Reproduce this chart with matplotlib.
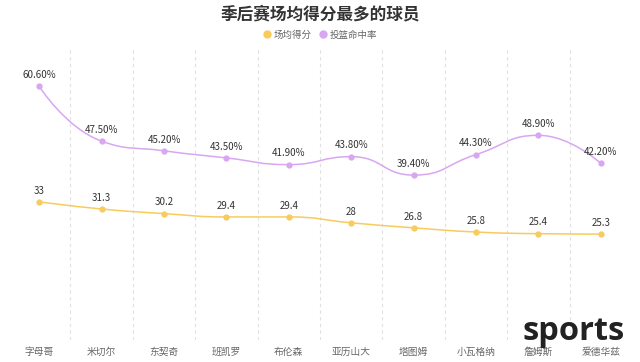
import numpy as np
import matplotlib
matplotlib.use("Agg")
import matplotlib.pyplot as plt
from matplotlib.path import Path
from matplotlib.patches import PathPatch
from matplotlib.lines import Line2D

plt.rcParams['font.family'] = ['Noto Sans CJK SC', 'DejaVu Sans']

players = ["字母哥", "米切尔", "东契奇", "班凯罗", "布伦森",
           "亚历山大", "塔图姆", "小瓦格纳", "詹姆斯", "爱德华兹"]
points_avg = [33, 31.3, 30.2, 29.4, 29.4, 28, 26.8, 25.8, 25.4, 25.3]
fg_pct = [60.6, 47.5, 45.2, 43.5, 41.9, 43.8, 39.4, 44.3, 48.9, 42.2]

yellow = "#F8CB5E"
purple = "#D9A6F2"


def smooth_path(ax, xs, ys, smooth=0.5):
    # echarts-like bezier smoothing with clamped control points (pixel space)
    pts = ax.transData.transform(np.column_stack([xs, ys]))
    n = len(pts)
    verts = [pts[0]]
    codes = [Path.MOVETO]
    cp0 = pts[0].copy()
    for i in range(1, n):
        p = pts[i]
        prev = pts[i - 1]
        if i == n - 1:
            cp1 = p.copy()
            ncp0 = p.copy()
        else:
            nxt = pts[i + 1]
            v = nxt - prev
            l0 = np.hypot(*(p - prev))
            l1 = np.hypot(*(nxt - p))
            r = l1 / (l0 + l1)
            ncp0 = p + v * smooth * r
            ncp0 = np.clip(ncp0, np.minimum(nxt, p), np.maximum(nxt, p))
            v = ncp0 - p
            cp1 = p - v * l0 / l1
            cp1 = np.clip(cp1, np.minimum(prev, p), np.maximum(prev, p))
            v = p - cp1
            ncp0 = p + v * l1 / l0
        verts += [cp0, cp1, p]
        codes += [Path.CURVE4] * 3
        cp0 = ncp0
    verts = ax.transData.inverted().transform(np.array(verts))
    return Path(verts, codes)


fig = plt.figure(figsize=(6.4, 3.62), dpi=100)
ax = fig.add_axes([8 / 640, 1 - 340 / 362, 624 / 640, 293 / 362])
x = np.arange(len(players))
ax.set_xlim(-0.5, len(players) - 0.5)
ax.set_ylim(0, 70)

for b in np.arange(0.5, len(players) - 1, 1):
    ax.axvline(b, color="#e0e0e0", lw=0.8, ls=(0, (3, 3)), zorder=0)

for vals, col, fmt in [(points_avg, yellow, "{:g}"), (fg_pct, purple, "{:.2f}%")]:
    ax.add_patch(PathPatch(smooth_path(ax, x, vals), fill=False,
                           edgecolor=col, lw=1.1, zorder=2))
    ax.plot(x, vals, "o", color=col, ms=3.5, zorder=3)
    for xi, v in zip(x, vals):
        ax.annotate(fmt.format(v), (xi, v), xytext=(0, 4.5),
                    textcoords="offset points", ha="center", va="bottom",
                    fontsize=7, color="#333333", zorder=4)

ax.set_xticks(x)
ax.set_xticklabels(players, fontsize=7, color="#666666")
ax.tick_params(axis="x", length=0, pad=5)
ax.set_yticks([])
for s in ax.spines.values():
    s.set_visible(False)

fig.text(0.5, 1 - 14 / 362, "季后赛场均得分最多的球员", ha="center", va="center",
         fontsize=12, fontweight="bold", color="#333333")

handles = [Line2D([], [], ls="", marker="o", ms=5, color=yellow),
           Line2D([], [], ls="", marker="o", ms=5, color=purple)]
fig.legend(handles, ["场均得分", "投篮命中率"], loc="center",
           bbox_to_anchor=(0.5, 1 - 35 / 362), ncol=2, frameon=False,
           fontsize=6.8, labelcolor="#666666", handletextpad=0.2,
           columnspacing=0.7, handlelength=1.0)

fig.text(574 / 640, 1 - 331 / 362, "sports", ha="center", va="center",
         fontsize=23.5, fontweight="bold", color="#222222", family="Open Sans")

fig.savefig("out.png", dpi=100, facecolor="white")
